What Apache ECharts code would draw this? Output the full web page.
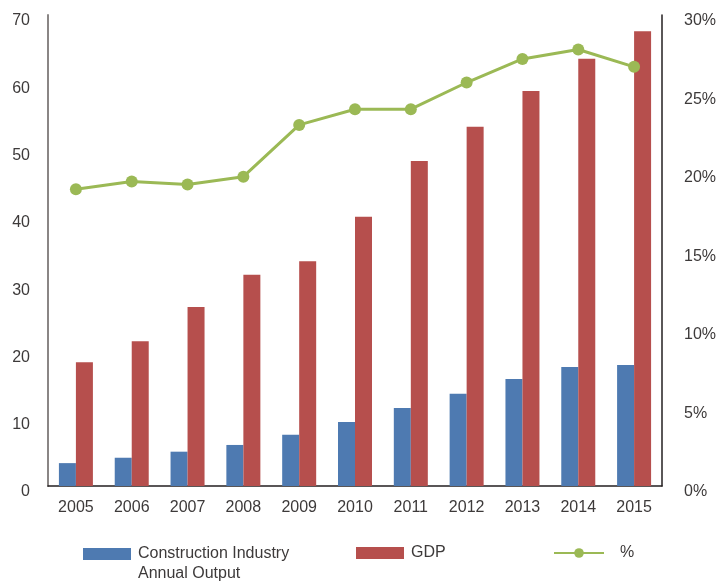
<!DOCTYPE html>
<html>
<head>
<meta charset="utf-8">
<script src="https://cdn.jsdelivr.net/npm/echarts@6/dist/echarts.min.js"></script>
<style>html,body{margin:0;padding:0;background:#fff;}#c{width:721px;height:582px;}</style>
</head>
<body>
<div id="c"></div>
<script>
const years = ['2005','2006','2007','2008','2009','2010','2011','2012','2013','2014','2015'];
const constructionOutput = [3.4, 4.2, 5.1, 6.1, 7.6, 9.5, 11.6, 13.7, 15.9, 17.7, 18.0];
const gdp = [18.4, 21.5, 26.6, 31.4, 33.4, 40.0, 48.3, 53.4, 58.7, 63.5, 67.6];
const percent = [18.9, 19.4, 19.2, 19.7, 23.0, 24.0, 24.0, 25.7, 27.2, 27.8, 26.7];
const leftTicks = {min: 0, max: 70, interval: 10};
const rightTicks = {min: 0, max: 30, interval: 5};
const names = ['Construction Industry\nAnnual Output', 'GDP', '%'];

const font = 'Liberation Sans, Arial, sans-serif';
const txt = '#3d3a3a';
const tallRectIcon = 'path://M0,4L48,4L48,16L0,16Z M0,0L0.01,0L0,0.01Z M0,40L0.01,40L0,39.99Z';
const chart = echarts.init(document.getElementById('c'), null, {renderer: 'canvas'});
chart.setOption({
  animation: false,
  textStyle: {fontFamily: font},
  grid: {left: 48, right: 59, top: 15, bottom: 96, containLabel: false},
  legend: [
    {data: [{name: names[0], icon: tallRectIcon}], left: 78, top: 539, itemWidth: 48, itemHeight: 40, itemGap: 0,
     textStyle: {fontSize: 16, color: txt, fontFamily: font, lineHeight: 20, padding: [0, 0, 0, 2]}},
    {data: [{name: names[1], icon: 'rect'}], left: 351, top: 540, itemWidth: 48, itemHeight: 12,
     textStyle: {fontSize: 16, color: txt, fontFamily: font, padding: [0, 0, 0, 2]}},
    {data: [names[2]], left: 548, top: 540, itemWidth: 50, itemHeight: 12,
     textStyle: {fontSize: 16, color: txt, fontFamily: font, padding: [0, 0, 0, 11]}}
  ],
  xAxis: {
    type: 'category', data: years,
    axisLine: {lineStyle: {color: '#231f20', width: 1.5}},
    axisTick: {show: false},
    axisLabel: {color: txt, fontSize: 16, margin: 14, fontFamily: font}
  },
  yAxis: [
    {type: 'value', min: leftTicks.min, max: leftTicks.max, interval: leftTicks.interval,
     axisLine: {show: true, lineStyle: {color: '#8a8685', width: 2}},
     axisTick: {show: false}, splitLine: {show: false},
     axisLabel: {color: txt, fontSize: 16, margin: 18, verticalAlign: 'top', lineHeight: 12, fontFamily: font}},
    {type: 'value', min: rightTicks.min, max: rightTicks.max, interval: rightTicks.interval, position: 'right',
     axisLine: {show: true, lineStyle: {color: '#231f20', width: 1.5}},
     axisTick: {show: false}, splitLine: {show: false},
     axisLabel: {color: txt, fontSize: 16, margin: 22, verticalAlign: 'top', lineHeight: 12, formatter: '{value}%', fontFamily: font}}
  ],
  series: [
    {name: names[0], type: 'bar', data: constructionOutput, barWidth: 17, barGap: '0%',
     itemStyle: {color: '#4e7ab1'}},
    {name: names[1], type: 'bar', data: gdp, barWidth: 17,
     itemStyle: {color: '#b64f4d'}},
    {name: names[2], type: 'line', yAxisIndex: 1, data: percent,
     symbol: 'circle', symbolSize: 12,
     lineStyle: {color: '#9bb955', width: 3},
     itemStyle: {color: '#9bb955'}}
  ]
});
</script>
</body>
</html>
